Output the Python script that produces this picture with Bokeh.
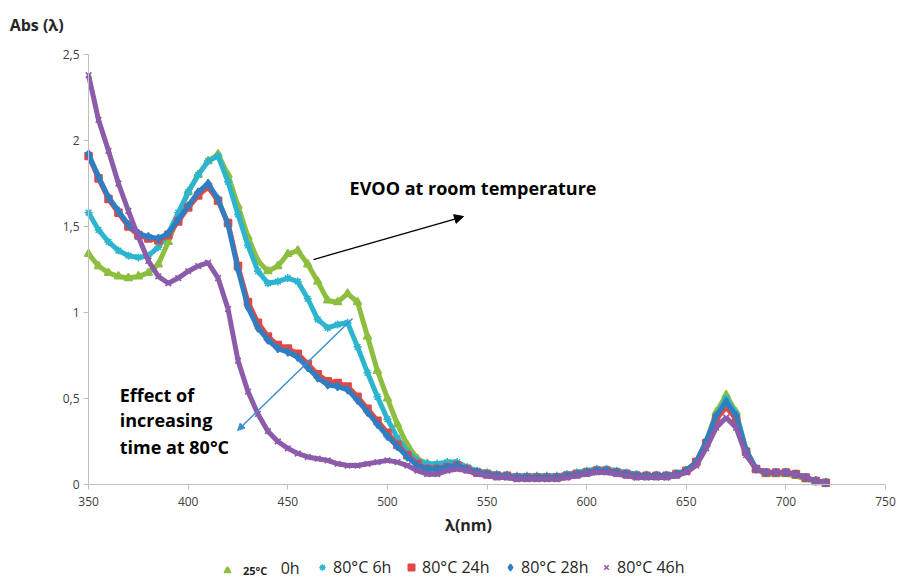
from bokeh.plotting import figure
from bokeh.models import (Range1d, Label, Arrow, NormalHead, Legend, LegendItem,
                          FixedTicker, LinearAxis)
from bokeh.embed import file_html
from bokeh.resources import INLINE

# ---------------- data ----------------
wavelength = list(range(350, 721, 5))

abs_25c_0h = [1.34, 1.27, 1.23, 1.21, 1.20, 1.21, 1.23, 1.28, 1.41, 1.56,
              1.70, 1.80, 1.88, 1.92, 1.80, 1.62, 1.44, 1.30, 1.24, 1.27,
              1.34, 1.36, 1.28, 1.18, 1.07, 1.06, 1.11, 1.06, 0.86, 0.66,
              0.50, 0.35, 0.23, 0.15, 0.12, 0.10, 0.10, 0.11, 0.09, 0.07,
              0.06, 0.05, 0.05, 0.04, 0.04, 0.04, 0.04, 0.04, 0.05, 0.06,
              0.07, 0.08, 0.08, 0.07, 0.06, 0.05, 0.05, 0.05, 0.05, 0.06,
              0.08, 0.13, 0.25, 0.42, 0.52, 0.42, 0.20, 0.09, 0.06, 0.06,
              0.06, 0.05, 0.03, 0.02, 0.01]

abs_80c_6h = [1.58, 1.48, 1.41, 1.36, 1.33, 1.32, 1.33, 1.38, 1.46, 1.58,
              1.70, 1.80, 1.88, 1.91, 1.76, 1.57, 1.39, 1.24, 1.17, 1.18,
              1.20, 1.18, 1.08, 0.96, 0.91, 0.93, 0.94, 0.80, 0.65, 0.51,
              0.38, 0.27, 0.19, 0.14, 0.12, 0.12, 0.13, 0.13, 0.10, 0.08,
              0.07, 0.06, 0.05, 0.05, 0.05, 0.05, 0.05, 0.05, 0.06, 0.07,
              0.08, 0.09, 0.09, 0.08, 0.07, 0.06, 0.05, 0.05, 0.05, 0.06,
              0.08, 0.13, 0.25, 0.40, 0.50, 0.41, 0.20, 0.09, 0.07, 0.07,
              0.07, 0.06, 0.04, 0.02, 0.01]

abs_80c_24h = [1.91, 1.78, 1.66, 1.58, 1.50, 1.45, 1.43, 1.42, 1.45, 1.53,
               1.61, 1.68, 1.73, 1.65, 1.52, 1.27, 1.06, 0.94, 0.86, 0.81,
               0.79, 0.76, 0.70, 0.64, 0.60, 0.59, 0.57, 0.51, 0.44, 0.37,
               0.30, 0.23, 0.17, 0.12, 0.09, 0.09, 0.10, 0.11, 0.09, 0.07,
               0.06, 0.05, 0.05, 0.04, 0.04, 0.04, 0.04, 0.04, 0.05, 0.06,
               0.07, 0.08, 0.08, 0.07, 0.06, 0.05, 0.05, 0.05, 0.05, 0.06,
               0.08, 0.13, 0.24, 0.38, 0.45, 0.38, 0.19, 0.09, 0.07, 0.07,
               0.07, 0.06, 0.04, 0.02, 0.01]

abs_80c_28h = [1.92, 1.79, 1.67, 1.59, 1.51, 1.46, 1.44, 1.43, 1.46, 1.54,
               1.62, 1.70, 1.75, 1.66, 1.51, 1.25, 1.03, 0.91, 0.84, 0.79,
               0.77, 0.74, 0.68, 0.62, 0.58, 0.57, 0.55, 0.49, 0.42, 0.35,
               0.28, 0.22, 0.16, 0.11, 0.09, 0.09, 0.10, 0.11, 0.09, 0.07,
               0.06, 0.05, 0.05, 0.04, 0.04, 0.04, 0.04, 0.04, 0.05, 0.06,
               0.07, 0.08, 0.08, 0.07, 0.06, 0.05, 0.05, 0.05, 0.05, 0.06,
               0.08, 0.13, 0.25, 0.40, 0.48, 0.40, 0.20, 0.09, 0.07, 0.07,
               0.07, 0.06, 0.04, 0.02, 0.01]

abs_80c_46h = [2.38, 2.12, 1.94, 1.75, 1.59, 1.44, 1.30, 1.21, 1.17, 1.20,
               1.24, 1.27, 1.29, 1.20, 1.02, 0.72, 0.54, 0.41, 0.31, 0.25,
               0.21, 0.18, 0.16, 0.15, 0.14, 0.12, 0.11, 0.11, 0.12, 0.13,
               0.14, 0.13, 0.11, 0.08, 0.06, 0.06, 0.08, 0.09, 0.08, 0.06,
               0.05, 0.04, 0.04, 0.03, 0.03, 0.03, 0.03, 0.03, 0.04, 0.05,
               0.06, 0.07, 0.07, 0.06, 0.05, 0.04, 0.04, 0.04, 0.04, 0.05,
               0.07, 0.11, 0.21, 0.33, 0.39, 0.33, 0.17, 0.09, 0.07, 0.07,
               0.07, 0.06, 0.04, 0.02, 0.01]

x_ticks = [350, 400, 450, 500, 550, 600, 650, 700, 750]
y_ticks = [0, 0.5, 1, 1.5, 2, 2.5]
y_tick_labels = ["0", "0,5", "1", "1,5", "2", "2,5"]

series = [
    ("0h", abs_25c_0h, "#8DBE3F", "triangle", 8),
    ("80°C 6h", abs_80c_6h, "#2DB4CF", "asterisk", 8),
    ("80°C 24h", abs_80c_24h, "#E04848", "square", 7),
    ("80°C 28h", abs_80c_28h, "#2F7EC2", "diamond", 8),
    ("80°C 46h", abs_80c_46h, "#8C5BAA", "x", 8),
]

FONT = "Open Sans"
TXT = "#262626"

# The frame covers the whole canvas; the axes are pinned at x=350 / y=0
p = figure(width=899, height=582, output_backend="svg", toolbar_location=None,
           x_range=Range1d(305.8, 757.0), y_range=Range1d(-0.570, 2.814),
           min_border_left=0, min_border_right=0, min_border_top=0,
           min_border_bottom=0, x_axis_location=None, y_axis_location=None)
p.outline_line_color = None
p.xgrid.visible = False
p.ygrid.visible = False
p.background_fill_color = "white"

xax = LinearAxis(fixed_location=0, bounds=(x_ticks[0], x_ticks[-1]),
                 ticker=FixedTicker(ticks=x_ticks))
yax = LinearAxis(fixed_location=x_ticks[0], bounds=(y_ticks[0], y_ticks[-1]),
                 ticker=FixedTicker(ticks=y_ticks))
yax.major_label_overrides = {t: s for t, s in zip(y_ticks, y_tick_labels)}
for ax in (xax, yax):
    ax.axis_line_color = "#BFBFBF"
    ax.major_tick_line_color = "#BFBFBF"
    ax.minor_tick_line_color = None
    ax.major_tick_in = 0
    ax.major_tick_out = 5
    ax.major_label_text_font = FONT
    ax.major_label_text_font_size = "12px"
    ax.major_label_text_color = "#404040"
xax.major_label_standoff = 8
yax.major_label_standoff = 4
p.add_layout(xax, "below")
p.add_layout(yax, "left")

scatter_renderers = []
for name, vals, color, marker, size in series:
    p.line(wavelength, vals, line_color=color, line_width=5)
    r = p.scatter(wavelength, vals, marker=marker, size=size, line_color=color,
                  fill_color=color, line_width=1.6)
    scatter_renderers.append(r)

# ---------------- legend (one small legend per entry) ----------------
legend_x = [219, 314, 403, 502, 598]
legend_standoff = [8, 3, 3, 3, 3]
legend_text = ["25°C", "80°C 6h", "80°C 24h", "80°C 28h", "80°C 46h"]
for i, r in enumerate(scatter_renderers):
    lg = Legend(items=[LegendItem(label=legend_text[i], renderers=[r])],
                location=(legend_x[i], 4), orientation="horizontal",
                padding=0, spacing=0, margin=0, glyph_width=16,
                glyph_height=16, label_height=16,
                label_standoff=legend_standoff[i],
                border_line_color=None, background_fill_alpha=0,
                label_text_font=FONT,
                label_text_font_size="11px" if i == 0 else "16px",
                label_text_font_style="bold" if i == 0 else "normal",
                label_text_color=TXT)
    p.add_layout(lg, "center")

p.add_layout(Label(x=446.4, y=-0.487, text="0h", text_font=FONT,
                   text_font_size="16px", text_color=TXT,
                   text_baseline="middle", text_align="left"))

# ---------------- titles and annotations ----------------
p.add_layout(Label(x=310.4, y=2.674, text="Abs (λ)", text_font=FONT,
                   text_font_size="16px", text_font_style="bold",
                   text_color=TXT, text_baseline="middle"))
p.add_layout(Label(x=540.7, y=-0.233, text="λ(nm)", text_font=FONT,
                   text_font_size="16px", text_font_style="bold",
                   text_color=TXT, text_baseline="middle",
                   text_align="center"))

p.add_layout(Label(x=481.0, y=1.721, text="EVOO at room temperature",
                   text_font=FONT, text_font_size="18px",
                   text_font_style="bold", text_color="black",
                   text_baseline="middle"))
for txt, yy in [("Effect of", 0.523), ("increasing", 0.372),
                ("time at 80°C", 0.215)]:
    p.add_layout(Label(x=365.6, y=yy, text=txt, text_font=FONT,
                       text_font_size="18px", text_font_style="bold",
                       text_color="black", text_baseline="middle"))

p.add_layout(Arrow(x_start=462.9, y_start=1.308, x_end=538.2, y_end=1.558,
                   line_color="black", line_width=1.3,
                   end=NormalHead(size=9, fill_color="black",
                                  line_color="black")))
p.add_layout(Arrow(x_start=482.5, y_start=0.965, x_end=424.8, y_end=0.314,
                   line_color="#3A8FD0", line_width=1.5,
                   end=NormalHead(size=7, fill_color="#3A8FD0",
                                  line_color="#3A8FD0")))

open("out.html", "w").write(file_html(p, INLINE))
